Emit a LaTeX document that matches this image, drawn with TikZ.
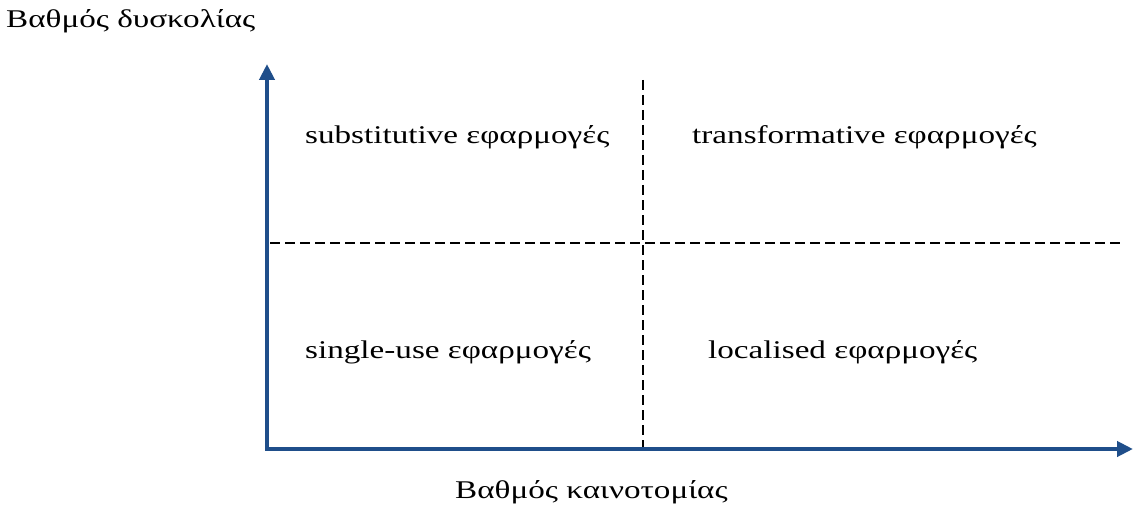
\documentclass[tikz,border=0pt]{standalone}
\usepackage{fontspec}
\setmainfont{Liberation Serif}
\usetikzlibrary{arrows.meta}
\definecolor{axisblue}{RGB}{31,78,138}
% labels are set wide: horizontally stretched serif text
\newcommand{\widetext}[1]{\scalebox{1.3}[1]{#1}}
\tikzset{
  axis/.style={draw=axisblue, line width=4pt, line join=miter,
    {Triangle[width=15pt,length=16pt]}-{Triangle[width=15pt,length=16pt]}},
  divider/.style={draw=black, line width=1.2pt, dash pattern=on 10pt off 5pt},
  lbl/.style={font=\fontsize{25.5}{30}\selectfont, inner sep=0pt, anchor=base west}
}
\begin{document}
\begin{tikzpicture}[x=1pt,y=-1pt]
  \useasboundingbox (0,0) rectangle (1133,516);
  % axes
  \coordinate (O) at (267,449);
  \coordinate (ytip) at (267,64);
  \coordinate (xtip) at (1133,449);
  \draw[axis] (ytip) -- (O) -- (xtip);
  % quadrant dividers
  \coordinate (hl) at (270,243);
  \coordinate (hr) at (1120,243);
  \coordinate (vt) at (643,80);
  \coordinate (vb) at (643,447);
  \draw[divider] (hl) -- (hr);
  \draw[divider] (vt) -- (vb);
  % axis titles
  \node[lbl] (ylab) at (6,28) {\widetext{Βαθμός δυσκολίας}};
  \node[lbl] (xlab) at (455,498) {\widetext{Βαθμός καινοτομίας}};
  % quadrant labels
  \node[lbl] (q1) at (305,144) {\widetext{substitutive εφαρμογές}};
  \node[lbl] (q2) at (692,144) {\widetext{transformative εφαρμογές}};
  \node[lbl] (q3) at (305,358) {\widetext{single-use εφαρμογές}};
  \node[lbl] (q4) at (708,358) {\widetext{localised εφαρμογές}};
\end{tikzpicture}
\end{document}
